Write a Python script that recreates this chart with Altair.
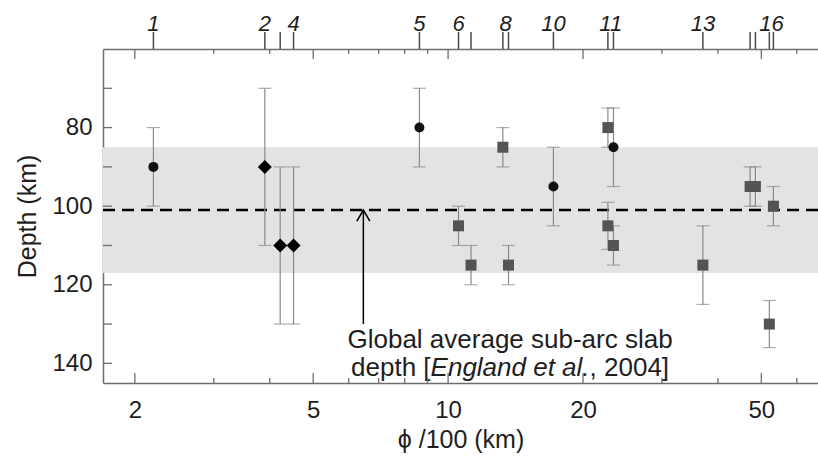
import altair as alt
import pandas as pd

# ---------------- data ----------------
phi = [2.20, 3.90, 4.22, 4.52, 8.63, 10.55, 11.25, 13.25, 13.64, 17.18,
       22.73, 22.73, 23.39, 23.39, 37.03, 47.2, 48.5, 52.1, 53.2]
depth = [90, 90, 110, 110, 80, 105, 115, 85, 115, 95,
         80, 105, 85, 110, 115, 95, 95, 130, 100]
depth_lo = [80, 70, 90, 90, 70, 100, 110, 80, 110, 85,
            75, 99, 75, 105, 105, 90, 90, 124, 95]
depth_hi = [100, 110, 130, 130, 90, 110, 120, 90, 120, 105,
            85, 111, 95, 115, 125, 100, 100, 136, 105]
kind = ["circle", "diamond", "diamond", "diamond", "circle", "square", "square",
        "square", "square", "circle", "square", "square", "circle", "square",
        "square", "square", "square", "square", "square"]

top_tick_phi = [2.20, 3.90, 4.22, 4.52, 8.63, 10.55, 11.25, 13.25, 13.64, 17.18,
                22.73, 23.39, 37.03, 47.2, 48.5, 52.1, 53.2]
top_label_phi = [2.20, 3.90, 4.52, 8.63, 10.55, 13.44, 17.18, 23.06, 37.03, 52.65]
top_label_txt = ["1", "2", "4", "5", "6", "8", "10", "11", "13", "16"]

x_major = [2, 5, 10, 20, 50]
x_minor = [3, 4, 6, 7, 8, 9, 30, 40, 60]
y_ticks = [70, 80, 90, 100, 110, 120, 130, 140]
y_labels = [80, 100, 120, 140]

band_lo, band_hi, band_mean = 85, 117, 101
arrow_phi, arrow_end = 6.47, 130
note_phi, note_d1, note_d2 = 13.75, 136.2, 143.3
note_line1 = "Global average sub-arc slab"
note_l2a, note_l2b, note_l2c = "depth [", "England et al.", ", 2004]"

x_domain = [1.698, 66.9]
y_domain = [60, 145]

# ---------------- layout / style ----------------
W, H = 715, 334
FONT = "Liberation Sans"
AX = "#6e6e6e"
ERR = "#8a8a8a"
TXT = "#1e1e1e"
NOTE_SIZE = 26

xs = alt.Scale(type="log", domain=x_domain, nice=False)
ys = alt.Scale(domain=y_domain, reverse=True, nice=False, zero=False)

pts = pd.DataFrame({"phi": phi, "depth": depth, "lo": depth_lo,
                    "hi": depth_hi, "kind": kind})
one = pd.DataFrame({"k": [0]})
top_ticks = pd.DataFrame({"phi": top_tick_phi})
top_labels = pd.DataFrame({"phi": top_label_phi, "label": top_label_txt})
xmaj = pd.DataFrame({"v": x_major})
xmin = pd.DataFrame({"v": x_minor})
yt = pd.DataFrame({"v": y_ticks})


def X(field, axis=None):
    return alt.X(field, type="quantitative", scale=xs, axis=axis)


def Y(field, axis=None):
    return alt.Y(field, type="quantitative", scale=ys, axis=axis)


band = alt.Chart(one).mark_rect(color="#e3e3e3").encode(
    x=alt.value(0), x2=alt.value(W),
    y=alt.datum(band_lo, scale=ys, axis=None), y2=alt.datum(band_hi)
)

mean_line = alt.Chart(one).mark_rule(
    color="black", strokeWidth=2.5, strokeDash=[12, 7]
).encode(y=alt.datum(band_mean, scale=ys, axis=None))

err = alt.Chart(pts).mark_rule(color=ERR, strokeWidth=1.2).encode(
    x=X("phi"), y=Y("lo"), y2="hi"
)
cap_lo = alt.Chart(pts).mark_tick(
    orient="horizontal", size=13, thickness=1.2, color=ERR
).encode(x=X("phi"), y=Y("lo"))
cap_hi = alt.Chart(pts).mark_tick(
    orient="horizontal", size=13, thickness=1.2, color=ERR
).encode(x=X("phi"), y=Y("hi"))

x_axis = alt.Axis(
    orient="bottom", values=x_major, format="d", ticks=False, tickSize=0,
    grid=False, domain=True, domainColor=AX, domainWidth=1.5,
    labelFont=FONT, labelFontSize=24, labelColor=TXT, labelPadding=15,
    labelFlush=False, labelOverlap=False,
    title="ϕ /100 (km)", titleFont=FONT, titleFontSize=25,
    titleFontWeight="normal", titleColor=TXT, titlePadding=5,
)
y_axis = alt.Axis(
    orient="left", values=y_labels, ticks=False, tickSize=0, grid=False,
    domain=True, domainColor=AX, domainWidth=1.5,
    labelFont=FONT, labelFontSize=24, labelColor=TXT, labelPadding=11,
    labelFlush=False, labelOverlap=False,
    title="Depth (km)", titleFont=FONT, titleFontSize=25,
    titleFontWeight="normal", titleColor=TXT, titlePadding=11,
)

squares = alt.Chart(pts).transform_filter(alt.datum.kind == "square").mark_point(
    shape="square", filled=True, size=121, color="#545454", opacity=1
).encode(x=X("phi", x_axis), y=Y("depth", y_axis))
circles = alt.Chart(pts).transform_filter(alt.datum.kind == "circle").mark_point(
    shape="circle", filled=True, size=100, color="#111111", opacity=1
).encode(x=X("phi"), y=Y("depth"))
diamonds = alt.Chart(pts).transform_filter(alt.datum.kind == "diamond").mark_point(
    shape="diamond", filled=True, size=196, color="#000000", opacity=1
).encode(x=X("phi"), y=Y("depth"))

# arrow and annotation
arrow_line = alt.Chart(one).mark_rule(color="black", strokeWidth=1.5).encode(
    x=alt.datum(arrow_phi, scale=xs, axis=None),
    y=alt.datum(band_mean, scale=ys, axis=None), y2=alt.datum(arrow_end)
)
arrow_head = alt.Chart(one).mark_point(
    shape="M-1,1.7L0,0L1,1.7", filled=False, size=169, strokeWidth=1.6,
    color="black", opacity=1
).encode(x=alt.datum(arrow_phi, scale=xs, axis=None),
         y=alt.datum(band_mean, scale=ys, axis=None))

half_it = 6.115 * NOTE_SIZE / 2


def note(text, d, align="center", dx=0, style="normal"):
    return alt.Chart(one).mark_text(
        font=FONT, fontSize=NOTE_SIZE, color=TXT, align=align,
        baseline="alphabetic", dx=dx, fontStyle=style
    ).encode(x=alt.datum(note_phi, scale=xs, axis=None),
             y=alt.datum(d, scale=ys, axis=None), text=alt.value(text))


n1 = note(note_line1, note_d1)
n2a = note(note_l2a, note_d2, align="right", dx=-half_it)
n2b = note(note_l2b, note_d2, style="italic")
n2c = note(note_l2c, note_d2, align="left", dx=half_it)

# inward frame ticks
bmaj = alt.Chart(xmaj).mark_rule(color=AX, strokeWidth=1.3).encode(
    x=X("v"), y=alt.value(H), y2=alt.value(H - 10))
bmin = alt.Chart(xmin).mark_rule(color=AX, strokeWidth=1.3).encode(
    x=X("v"), y=alt.value(H), y2=alt.value(H - 5))
tmaj = alt.Chart(xmaj).mark_rule(color=AX, strokeWidth=1.3).encode(
    x=X("v"), y=alt.value(0), y2=alt.value(10))
tmin = alt.Chart(xmin).mark_rule(color=AX, strokeWidth=1.3).encode(
    x=X("v"), y=alt.value(0), y2=alt.value(5))
lt = alt.Chart(yt).mark_rule(color=AX, strokeWidth=1.3).encode(
    y=Y("v"), x=alt.value(0), x2=alt.value(9))

# top data ticks with numbers
top_axis = alt.Axis(orient="top", labels=False, ticks=False, tickSize=0,
                    grid=False, domain=True, domainColor=AX, domainWidth=1.5,
                    title=None)
tticks = alt.Chart(top_ticks).mark_rule(color="#4a4a4a", strokeWidth=1.5).encode(
    x=X("phi", top_axis), y=alt.value(0), y2=alt.value(-17))
tlabels = alt.Chart(top_labels).mark_text(
    font=FONT, fontSize=22, fontStyle="italic", color=TXT,
    align="center", baseline="alphabetic"
).encode(x=X("phi"), y=alt.value(-18), text="label:N")

chart = alt.layer(
    band, mean_line, err, cap_lo, cap_hi, squares, circles, diamonds,
    arrow_line, arrow_head, n1, n2a, n2b, n2c,
    bmaj, bmin, tmaj, tmin, lt, tticks, tlabels
).resolve_axis(x="independent", y="independent").properties(
    width=W, height=H,
    padding={"left": 103, "top": 49, "right": 0, "bottom": 73},
    autosize=alt.AutoSizeParams(type="none"),
    background="white",
).configure_view(stroke=None)

chart.save("out.html", embed_options={"renderer": "svg", "actions": False})
